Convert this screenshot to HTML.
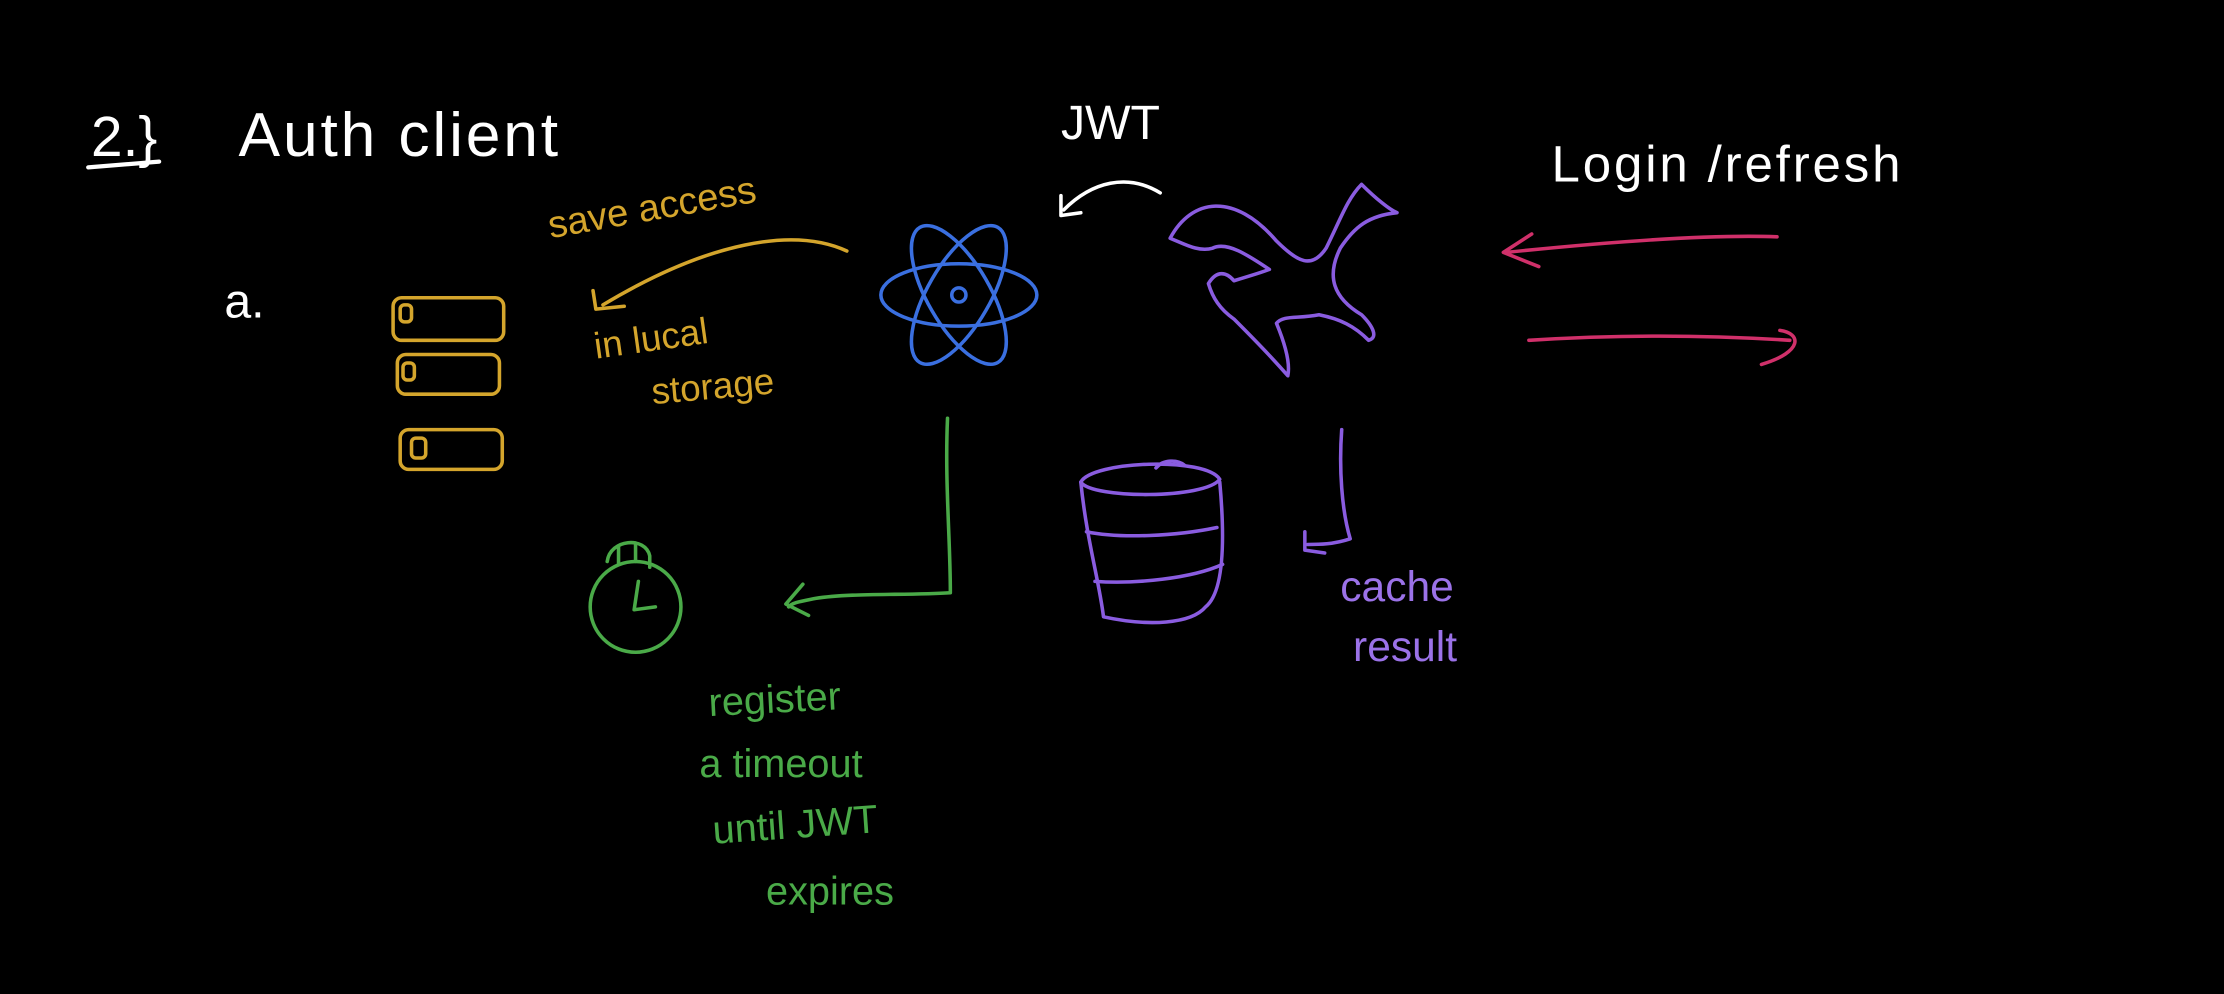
<!DOCTYPE html>
<html><head><meta charset="utf-8"><style>
html,body{margin:0;padding:0;background:#000;width:2224px;height:994px;overflow:hidden}
svg{display:block}
text{font-family:"Liberation Sans",sans-serif;font-weight:normal}
</style></head><body>
<svg width="2224" height="994" viewBox="0 0 1568 701" xmlns="http://www.w3.org/2000/svg" fill="none" stroke-linecap="round" stroke-linejoin="round">
<rect width="1568" height="701" fill="#000"/>
<g fill="#fff" stroke="none">
<text x="64" y="110" font-size="40">2.}</text>
<text x="168" y="110" font-size="44" letter-spacing="2">Auth client</text>
<text x="158" y="224" font-size="34">a.</text>
<text x="748" y="98" font-size="34">JWT</text>
<text x="1094" y="128" font-size="36" letter-spacing="2">Login /refresh</text>
</g>
<line x1="62" y1="118" x2="112" y2="114" stroke="#fff" stroke-width="3"/>
<g stroke="#d4a52c" stroke-width="2.5">
<rect x="277" y="210" width="78" height="30" rx="6"/>
<rect x="280" y="250" width="72" height="28" rx="6"/>
<rect x="282" y="303" width="72" height="28" rx="6"/>
<rect x="282" y="215" width="8" height="12" rx="3"/>
<rect x="284" y="256" width="8" height="12" rx="3"/>
<rect x="290" y="309" width="10" height="14" rx="3"/>
<path d="M597 177 C560 160 500 170 425 215"/>
<path d="M418 205 L420 218 L440 216"/>
</g>
<g fill="#d4a52c" stroke="none">
<text x="388" y="168" font-size="27" transform="rotate(-10 388 168)">save access</text>
<text x="420" y="253" font-size="26" transform="rotate(-8 420 253)">in lucal</text>
<text x="460" y="285" font-size="26" transform="rotate(-5 460 285)">storage</text>
</g>
<g stroke="#3a6fe0" stroke-width="2.5">
<ellipse cx="676" cy="208" rx="55" ry="22"/>
<ellipse cx="676" cy="208" rx="55" ry="22" transform="rotate(60 676 208)"/>
<ellipse cx="676" cy="208" rx="55" ry="22" transform="rotate(-60 676 208)"/>
<circle cx="676" cy="208" r="5"/>
</g>
<g stroke="#fff" stroke-width="2.5">
<path d="M818 136 C795 122 770 128 750 148"/>
<path d="M748 138 L748 152 L762 150"/>
</g>
<g stroke="#8a5ce0" stroke-width="2.5">
<path d="M825 168 C840 140 870 135 900 170 C915 185 925 190 935 175 C945 155 950 140 960 130 C970 140 980 148 985 150 C965 152 955 160 945 175 C935 195 940 210 960 222 C968 230 972 238 965 240 C955 230 945 225 930 222 C915 225 905 222 900 228 C905 240 910 255 908 265 C895 250 880 235 870 225 C860 218 855 210 852 200 C858 190 865 192 870 198 C880 195 890 192 895 190 C880 180 865 170 855 175 C845 178 835 172 825 168 Z"/>
</g>
<g stroke="#d0306a" stroke-width="2.5">
<path d="M1253 167 C1200 165 1120 172 1062 178"/>
<path d="M1080 165 L1060 178 L1085 188"/>
<path d="M1078 240 C1140 236 1200 236 1262 240"/>
<path d="M1255 233 C1270 235 1272 248 1242 257"/>
</g>
<g stroke="#8a5ce0" stroke-width="2.5">
<path d="M762 340 C770 325 850 322 860 338 C850 352 770 352 762 340 Z"/>
<path d="M815 330 C820 324 830 324 835 328"/>
<path d="M762 340 C766 380 775 410 778 435 C810 442 840 440 850 428 C860 420 865 395 860 340"/>
<path d="M766 375 C790 380 830 378 858 372"/>
<path d="M772 410 C800 412 840 408 862 398"/>
<path d="M946 303 C944 330 946 360 952 380 C940 384 930 384 922 384"/>
<path d="M920 375 L920 388 L934 390"/>
</g>
<g fill="#9b72e8" stroke="none">
<text x="945" y="424" font-size="30">cache</text>
<text x="954" y="466" font-size="30">result</text>
</g>
<g stroke="#4aaa48" stroke-width="2.5">
<path d="M668 295 C666 340 670 380 670 418 C640 420 600 418 575 422 C565 424 558 425 556 428"/>
<path d="M566 412 L554 426 L570 434"/>
<circle cx="448" cy="428" r="32"/>
<path d="M450 410 L447 430 L462 428"/>
<path d="M428 396 C430 380 455 378 458 392 L458 400"/>
<path d="M436 385 L436 398 M448 383 L448 396"/>
</g>
<g fill="#4aaa48" stroke="none">
<text x="500" y="505" font-size="28" transform="rotate(-3 500 505)">register</text>
<text x="493" y="548" font-size="28">a timeout</text>
<text x="503" y="595" font-size="28" transform="rotate(-4 503 595)">until JWT</text>
<text x="540" y="638" font-size="28">expires</text>
</g>
</svg>
</body></html>
